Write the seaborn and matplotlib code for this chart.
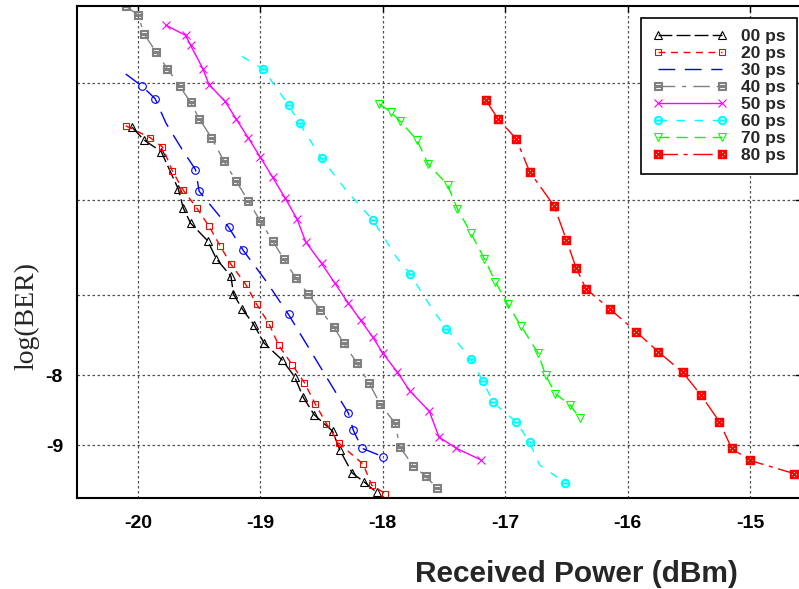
import numpy as np
import matplotlib
matplotlib.use("Agg")
import matplotlib.pyplot as plt
from matplotlib.lines import Line2D
import seaborn as sns

# ---------------- data (Received power in dBm, log10(BER)) ----------------
labels = ["00 ps", "20 ps", "30 ps", "40 ps", "50 ps", "60 ps", "70 ps", "80 ps"]

ps00_x = [-20.05, -19.95, -19.81, -19.67, -19.63, -19.57, -19.43, -19.36, -19.24, -19.22, -19.15,
          -19.05, -18.97, -18.82, -18.72, -18.65, -18.56, -18.41, -18.35, -18.25, -18.15, -18.05]
ps00_y = [-5.35, -5.46, -5.56, -5.90, -6.08, -6.23, -6.41, -6.60, -6.79, -6.99, -7.16,
          -7.36, -7.58, -7.80, -8.02, -8.30, -8.55, -8.79, -9.08, -9.44, -9.59, -9.76]

ps20_x = [-20.10, -19.90, -19.80, -19.72, -19.63, -19.52, -19.42, -19.33, -19.24, -19.12, -19.03,
          -18.93, -18.85, -18.74, -18.64, -18.55, -18.46, -18.36, -18.16, -18.09, -17.98]
ps20_y = [-5.34, -5.44, -5.52, -5.73, -5.91, -6.08, -6.26, -6.46, -6.66, -6.88, -7.11,
          -7.34, -7.61, -7.86, -8.10, -8.40, -8.68, -8.97, -9.30, -9.64, -9.78]

ps30_x = [-20.10, -19.97, -19.86, -19.77, -19.64, -19.53, -19.50, -19.26, -19.14, -18.95, -18.77,
          -18.28, -18.24, -18.17, -18.00]
ps30_y = [-4.93, -5.02, -5.12, -5.32, -5.54, -5.72, -5.92, -6.27, -6.51, -6.85, -7.23,
          -8.53, -8.78, -9.05, -9.18]
ps30_marked = [1, 2, 5, 6, 7, 8, 10, 11, 12, 13, 14]

ps40_x = [-20.10, -20.00, -19.95, -19.85, -19.76, -19.66, -19.57, -19.50, -19.40, -19.30, -19.20,
          -19.10, -19.00, -18.90, -18.81, -18.71, -18.61, -18.51, -18.40, -18.32, -18.21, -18.11,
          -18.02, -17.90, -17.86, -17.75, -17.65, -17.56]
ps40_y = [-4.45, -4.51, -4.64, -4.77, -4.89, -5.02, -5.15, -5.28, -5.44, -5.64, -5.82,
          -6.01, -6.21, -6.41, -6.60, -6.81, -6.99, -7.18, -7.38, -7.58, -7.84, -8.11,
          -8.40, -8.67, -9.03, -9.33, -9.49, -9.68]

ps50_x = [-19.77, -19.61, -19.57, -19.47, -19.42, -19.29, -19.20, -19.10, -19.00, -18.90, -18.80,
          -18.70, -18.63, -18.50, -18.39, -18.28, -18.18, -18.08, -18.00, -17.88, -17.78, -17.62,
          -17.54, -17.40, -17.20]
ps50_y = [-4.58, -4.65, -4.72, -4.89, -5.01, -5.14, -5.28, -5.44, -5.61, -5.79, -5.98,
          -6.19, -6.42, -6.65, -6.87, -7.10, -7.30, -7.51, -7.71, -7.96, -8.21, -8.50,
          -8.88, -9.05, -9.23]

ps60_x = [-19.15, -18.98, -18.77, -18.68, -18.50, -18.30, -18.08, -17.89, -17.78, -17.59, -17.48,
          -17.28, -17.18, -17.10, -17.00, -16.91, -16.80, -16.72, -16.51]
ps60_y = [-4.80, -4.89, -5.17, -5.32, -5.62, -5.91, -6.20, -6.58, -6.76, -7.18, -7.40,
          -7.79, -8.08, -8.37, -8.52, -8.65, -8.96, -9.31, -9.60]
ps60_marked = [1, 2, 3, 4, 6, 8, 10, 11, 12, 13, 15, 16, 18]

ps70_x = [-18.03, -17.93, -17.86, -17.72, -17.63, -17.47, -17.39, -17.28, -17.17, -17.08, -16.98,
          -16.87, -16.73, -16.67, -16.59, -16.47, -16.39]
ps70_y = [-5.16, -5.23, -5.30, -5.46, -5.67, -5.86, -6.09, -6.33, -6.60, -6.85, -7.11,
          -7.37, -7.71, -8.00, -8.25, -8.41, -8.60]

ps80_x = [-17.16, -17.06, -16.91, -16.80, -16.60, -16.50, -16.42, -16.34, -16.14, -15.93, -15.75,
          -15.55, -15.40, -15.25, -15.15, -15.00, -14.64]
ps80_y = [-5.13, -5.28, -5.45, -5.74, -6.06, -6.40, -6.70, -6.93, -7.17, -7.44, -7.69,
          -7.96, -8.27, -8.65, -9.05, -9.24, -9.45]

x_ticks = [-20, -19, -18, -17, -16, -15]
x_ticklabels = ["-20", "-19", "-18", "-17", "-16", "-15"]
y_ticks = [-9, -8, -7, -6, -5]
y_ticklabels = ["-9", "-8", "", "", ""]

# ---------------- style ----------------
sns.set_style("white")
plt.rcParams["font.family"] = ["Liberation Sans", "DejaVu Sans"]

fig = plt.figure(figsize=(7.99, 5.89), dpi=100)
W, H = 799.0, 589.0
ax = fig.add_axes([77 / W, 1 - 498 / H, 724 / W, 492 / H])

styles = [
    dict(x=ps00_x, y=ps00_y, color="#000000", ls=(0, (10, 3)), marker="^", ms=5.5, mfc="none", every=None, leg_marker=True),
    dict(x=ps20_x, y=ps20_y, color="#ff0000", ls=(0, (5, 4)), marker="s", ms=5.0, mfc="none", every=None, leg_marker=True),
    dict(x=ps30_x, y=ps30_y, color="#0000ff", ls=(0, (12, 7)), marker="o", ms=5.5, mfc="none", every=ps30_marked, leg_marker=False),
    dict(x=ps40_x, y=ps40_y, color="#808080", ls=(0, (12, 5, 3, 5)), marker="$\u229f$", ms=6.0, mfc="#808080", every=None, leg_marker=True),
    dict(x=ps50_x, y=ps50_y, color="#ff00ff", ls="-", marker="x", ms=5.5, mfc="none", every=None, leg_marker=True),
    dict(x=ps60_x, y=ps60_y, color="#00ffff", ls=(0, (6, 7)), marker="$\u2296$", ms=6.0, mfc="#00ffff", every=ps60_marked, leg_marker=True),
    dict(x=ps70_x, y=ps70_y, color="#00ff00", ls=(0, (8, 5)), marker="v", ms=5.5, mfc="none", every=None, leg_marker=True),
    dict(x=ps80_x, y=ps80_y, color="#ff0000", ls=(0, (14, 4, 3, 4)), marker="$\u22a0$", ms=6.0, mfc="#ff0000", every=None, leg_marker=True),
]

handles = []
for s in styles:
    sns.lineplot(x=s["x"], y=s["y"], ax=ax, estimator=None, sort=False, legend=False,
                 color=s["color"], linestyle=s["ls"], linewidth=1.0,
                 marker=s["marker"], markersize=s["ms"], markerfacecolor=s["mfc"],
                 markeredgecolor=s["color"], markeredgewidth=0.8, markevery=s["every"],
                 clip_on=True)
    handles.append(Line2D([0], [0], color=s["color"], linestyle=s["ls"], linewidth=1.0,
                          marker=s["marker"] if s["leg_marker"] else "None",
                          markersize=s["ms"], markerfacecolor=s["mfc"],
                          markeredgecolor=s["color"], markeredgewidth=0.8))

# y axis: BER-style scale (spacing follows log10(-log10(BER) - 1))
def _fwd(v):
    v = np.asarray(v, dtype=float)
    return -np.log10(np.clip(-v - 1.0, 1e-6, None))

def _inv(f):
    f = np.asarray(f, dtype=float)
    return -(10.0 ** (-f) + 1.0)

ax.set_yscale("function", functions=(_fwd, _inv))
ax.set_ylim(-9.855, -4.45)
ax.set_xlim(-20.498, -14.583)

ax.set_xticks(x_ticks)
ax.set_xticklabels(x_ticklabels, fontsize=14, fontweight="bold")
ax.set_yticks(y_ticks)
ax.set_yticklabels(y_ticklabels, fontsize=14, fontweight="bold")
ax.yaxis.set_minor_locator(matplotlib.ticker.NullLocator())
ax.tick_params(axis="both", direction="in", length=4, width=1, top=True, right=True,
               colors="black")
ax.tick_params(axis="x", pad=12)
ax.tick_params(axis="y", pad=10)

ax.grid(True, which="major", color="#505050", linestyle=(0, (2, 2)), linewidth=0.9)
for sp in ax.spines.values():
    sp.set_visible(True)
    sp.set_color("black")
    sp.set_linewidth(1.5)

ax.set_xlabel("Received Power (dBm)", fontsize=21.5, fontweight="bold")
ax.xaxis.set_label_coords((576.5 - 77) / 724, (498 - 574) / 492)
ax.xaxis.label.set_va("center")
ax.set_ylabel("log(BER)", fontsize=20, family=["Liberation Serif", "DejaVu Serif"],
              fontweight="normal")
ax.yaxis.set_label_coords((27 - 77) / 724, (498 - 316) / 492)
ax.yaxis.label.set_va("center")

leg = ax.legend(handles, labels, loc="upper right",
                bbox_to_anchor=((797 - 77) / 724, (498 - 18) / 492),
                borderaxespad=0, frameon=True, fancybox=False, framealpha=1,
                edgecolor="black", prop=dict(weight="bold", size=12.5),
                numpoints=2, handlelength=4.3, handletextpad=0.8, labelspacing=0.1,
                borderpad=0.65)
leg.get_frame().set_linewidth(1.2)

fig.savefig("out.png", dpi=100)
